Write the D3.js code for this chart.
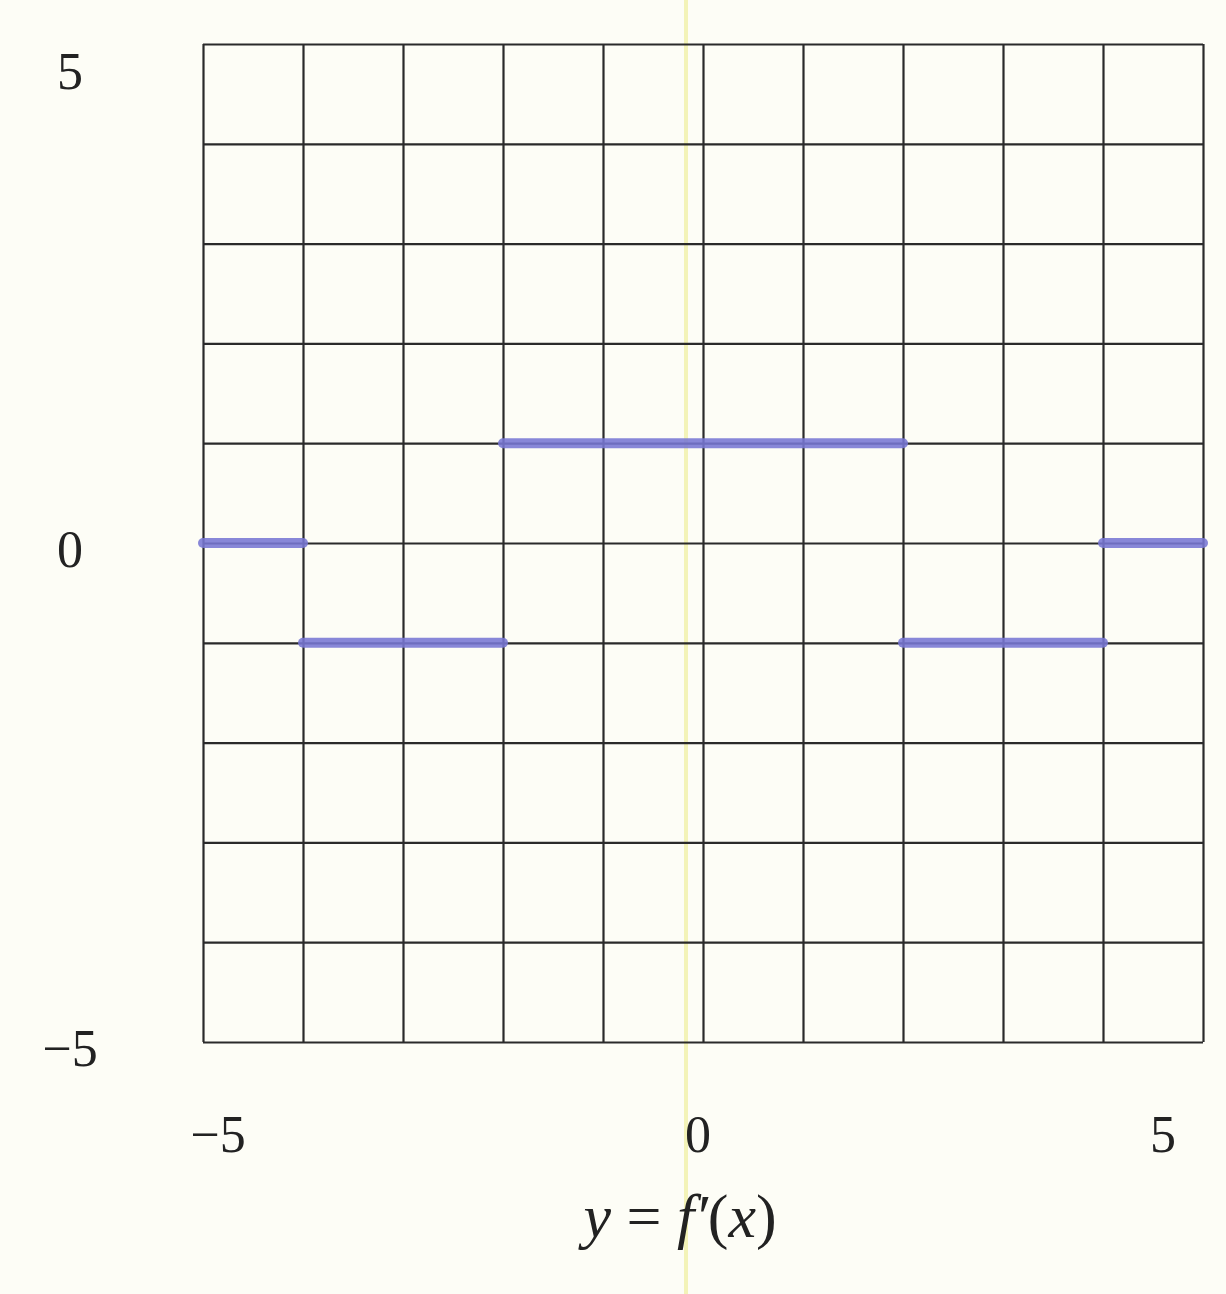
<!DOCTYPE html>
<html>
<head>
<meta charset="utf-8">
<script src="https://cdn.jsdelivr.net/npm/d3@7"></script>
<style>
body { margin: 0; background: #fdfdf6; }
text { font-family: "Liberation Serif", "DejaVu Serif", serif; fill: #222; }
</style>
</head>
<body>
<div id="chart"></div>
<script>
// piecewise-constant derivative, drawn as horizontal segments
var segStart = [-5, -4, -2, 2, 4];
var segEnd   = [-4, -2,  2, 4, 5];
var segValue = [ 0, -1,  1, -1, 0];

var gridTicks = d3.range(-5, 6, 1);
var labelTicks = [-5, 0, 5];

var margin = {top: 44, right: 23, bottom: 252, left: 203},
width = 1226 - margin.left - margin.right,
height = 1294 - margin.top - margin.bottom;

var x = d3.scaleLinear().domain([-5, 5]).range([0, width]);
var y = d3.scaleLinear().domain([-5, 5]).range([height, 0]);

var svg = d3.select("#chart").append("svg")
.attr("width", 1226)
.attr("height", 1294);

// faint scanner streak
svg.append("line")
.attr("x1", 686).attr("x2", 686)
.attr("y1", 0).attr("y2", 1294)
.attr("stroke", "#f3f3b8")
.attr("stroke-width", 4);

var g = svg.append("g")
.attr("transform", "translate(" + margin.left + "," + margin.top + ")");

// grid
g.append("g")
.attr("transform", "translate(0," + height + ")")
.call(d3.axisBottom(x).tickValues(gridTicks).tickSize(-height).tickFormat(""))
.call(function(s) { s.select(".domain").remove(); });
g.append("g")
.call(d3.axisLeft(y).tickValues(gridTicks).tickSize(-width).tickFormat(""))
.call(function(s) { s.select(".domain").remove(); });
g.selectAll(".tick line")
.attr("stroke", "#2a2a2a")
.attr("stroke-width", 2.2);

// segments
var segs = segStart.map(function(s, i) { return {x0: s, x1: segEnd[i], v: segValue[i]}; });
g.selectAll(".seg")
.data(segs)
.enter().append("line")
.attr("class", "seg")
.attr("x1", function(d) { return x(d.x0); })
.attr("x2", function(d) { return x(d.x1); })
.attr("y1", function(d) { return y(d.v); })
.attr("y2", function(d) { return y(d.v); })
.attr("stroke", "#7877d4")
.attr("stroke-width", 10)
.attr("stroke-linecap", "round")
.attr("opacity", 0.88);

function fmt(v) { return v < 0 ? "\u2212" + Math.abs(v) : "" + v; }

// y labels
g.selectAll(".ylab")
.data(labelTicks)
.enter().append("text")
.attr("class", "ylab")
.attr("x", -133)
.attr("y", function(d) { return y(d) + (d === 5 ? 28 : 7) + 17; })
.attr("text-anchor", "middle")
.attr("font-size", 52)
.text(fmt);

// x labels
g.selectAll(".xlab")
.data(labelTicks)
.enter().append("text")
.attr("class", "xlab")
.attr("x", function(d) { return x(d) + (d === -5 ? 15 : d === 5 ? -40 : -5); })
.attr("y", height + 110)
.attr("text-anchor", "middle")
.attr("font-size", 52)
.text(fmt);

// caption
var cap = g.append("text")
.attr("x", x(0) - 23)
.attr("y", height + 195)
.attr("text-anchor", "middle")
.attr("font-size", 62);
cap.append("tspan").attr("font-style", "italic").text("y");
cap.append("tspan").text(" = ");
cap.append("tspan").attr("font-style", "italic").text("f\u2032");
cap.append("tspan").text("(");
cap.append("tspan").attr("font-style", "italic").text("x");
cap.append("tspan").text(")");
</script>
</body>
</html>
